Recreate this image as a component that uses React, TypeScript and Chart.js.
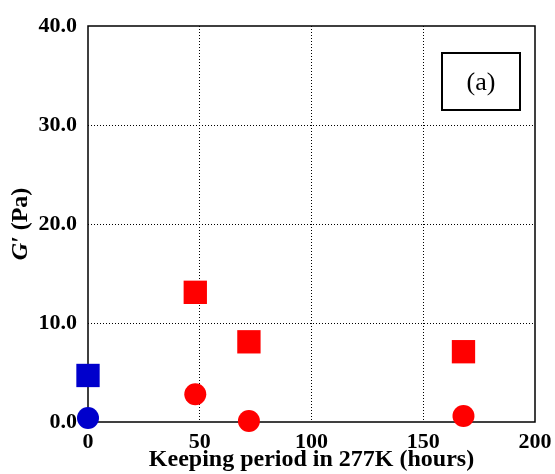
import React, { useEffect, useRef } from "react";
import { Chart, registerables } from "chart.js";

Chart.register(...registerables);

// Storage time at 277 K (hours) and measured storage modulus G' (Pa)
const squareHoursBlue = [0];
const squareGBlue = [4.7];
const circleHoursBlue = [0];
const circleGBlue = [0.4];
const squareHoursRed = [48, 72, 168];
const squareGRed = [13.1, 8.1, 7.1];
const circleHoursRed = [48, 72, 168];
const circleGRed = [2.8, 0.1, 0.6];

const xTicks = [0, 50, 100, 150, 200];
const yTicks = [0, 10, 20, 30, 40];
const panelLabel = "(a)";
const xTitle = "Keeping period in 277K (hours)";

const SERIF = "'Liberation Serif', 'Times New Roman', serif";

const pts = (xs: number[], ys: number[]) => xs.map((x, i) => ({ x, y: ys[i] }));

const framePlugin = {
  id: "frame",
  beforeDatasetsDraw(chart: any) {
    const { ctx, chartArea: a } = chart;
    ctx.save();
    ctx.strokeStyle = "#000";
    ctx.lineWidth = 1.5;
    ctx.strokeRect(a.left, a.top, a.right - a.left, a.bottom - a.top);
    ctx.restore();
  },
  afterDraw(chart: any) {
    const { ctx, chartArea: a } = chart;
    ctx.save();
    // panel label box
    ctx.strokeStyle = "#000";
    ctx.lineWidth = 2;
    ctx.strokeRect(442, 53, 78, 57);
    ctx.fillStyle = "#000";
    ctx.font = `26px ${SERIF}`;
    ctx.textAlign = "center";
    ctx.textBaseline = "middle";
    ctx.fillText(panelLabel, 481, 83);

    // y-axis title: italic G′ followed by (Pa)
    ctx.translate(21, (a.top + a.bottom) / 2);
    ctx.rotate(-Math.PI / 2);
    ctx.textBaseline = "middle";
    ctx.textAlign = "left";
    const part1 = "G\u2032";
    const part2 = " (Pa)";
    ctx.font = `italic bold 24px ${SERIF}`;
    const w1 = ctx.measureText(part1).width;
    ctx.font = `bold 24px ${SERIF}`;
    const w2 = ctx.measureText(part2).width;
    const start = -(w1 + w2) / 2;
    ctx.font = `italic bold 24px ${SERIF}`;
    ctx.fillText(part1, start, 0);
    ctx.font = `bold 24px ${SERIF}`;
    ctx.fillText(part2, start + w1, 0);
    ctx.restore();
  },
};

export default function App() {
  const ref = useRef<HTMLCanvasElement>(null);

  useEffect(() => {
    document.body.style.margin = "0";
    if (!ref.current) return;
    const edgeX = (v: number) => v === xTicks[0] || v === xTicks[xTicks.length - 1];
    const edgeY = (v: number) => v === yTicks[0] || v === yTicks[yTicks.length - 1];
    const chart = new Chart(ref.current, {
      type: "scatter",
      data: {
        datasets: [
          {
            data: pts(squareHoursRed, squareGRed),
            pointStyle: "rect",
            pointRadius: 16.5,
            pointHoverRadius: 16.5,
            backgroundColor: "#ff0000",
            borderWidth: 0,
            clip: false,
          },
          {
            data: pts(circleHoursRed, circleGRed),
            pointStyle: "circle",
            pointRadius: 11,
            pointHoverRadius: 11,
            backgroundColor: "#ff0000",
            borderWidth: 0,
            clip: false,
          },
          {
            data: pts(squareHoursBlue, squareGBlue),
            pointStyle: "rect",
            pointRadius: 16.5,
            pointHoverRadius: 16.5,
            backgroundColor: "#0000cc",
            borderWidth: 0,
            clip: false,
          },
          {
            data: pts(circleHoursBlue, circleGBlue),
            pointStyle: "circle",
            pointRadius: 11,
            pointHoverRadius: 11,
            backgroundColor: "#0000cc",
            borderWidth: 0,
            clip: false,
          },
        ],
      },
      options: {
        animation: false,
        responsive: false,
        events: [],
        layout: { padding: { left: 0, top: 26, right: 20, bottom: 0 } },
        plugins: { legend: { display: false }, tooltip: { enabled: false } },
        scales: {
          x: {
            type: "linear",
            min: 0,
            max: 200,
            afterBuildTicks: (s: any) => {
              s.ticks = xTicks.map((v) => ({ value: v }));
            },
            afterFit: (s: any) => {
              s.height = 52;
              s.paddingLeft = 0;
              s.paddingRight = 0;
            },
            border: { display: false, dash: [1, 2] },
            grid: {
              drawTicks: false,
              color: (c: any) => (edgeX(c.tick?.value) ? "rgba(0,0,0,0)" : "#000"),
              lineWidth: 1,
            },
            ticks: {
              color: "#000",
              padding: 7,
              font: { family: SERIF, size: 22, weight: "bold" },
              maxRotation: 0,
            },
            title: {
              display: true,
              text: xTitle,
              color: "#000",
              font: { family: SERIF, size: 24, weight: "bold" },
              padding: { top: 0, bottom: 0 },
            },
          },
          y: {
            type: "linear",
            min: 0,
            max: 40,
            afterBuildTicks: (s: any) => {
              s.ticks = yTicks.map((v) => ({ value: v }));
            },
            afterFit: (s: any) => {
              s.width = 88;
              s.paddingTop = 0;
              s.paddingBottom = 0;
            },
            border: { display: false, dash: [1, 2] },
            grid: {
              drawTicks: false,
              color: (c: any) => (edgeY(c.tick?.value) ? "rgba(0,0,0,0)" : "#000"),
              lineWidth: 1,
            },
            ticks: {
              color: "#000",
              padding: 11,
              font: { family: SERIF, size: 22, weight: "bold" },
              callback: (v: any) => Number(v).toFixed(1),
            },
          },
        },
      },
      plugins: [framePlugin],
    } as any);

    return () => chart.destroy();
  }, []);

  return (
    <div style={{ position: "fixed", left: 0, top: 0, width: 555, height: 474 }}>
      <canvas ref={ref} width={555} height={474} />
    </div>
  );
}
